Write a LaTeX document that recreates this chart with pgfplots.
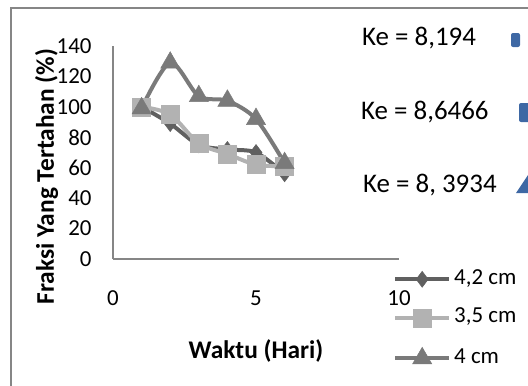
\documentclass[border=0pt]{standalone}
\usepackage{fontspec}
\setmainfont{Carlito}
\usepackage{pgfplots}
\pgfplotsset{compat=1.18}

\definecolor{serA}{RGB}{96,96,96}
\definecolor{serB}{RGB}{178,178,178}
\definecolor{serC}{RGB}{122,122,122}
\definecolor{axisgray}{RGB}{134,134,134}
\definecolor{kemark}{RGB}{62,104,164}

\begin{document}
\begin{tikzpicture}[x=1bp,y=1bp]
\clip (0,0) rectangle (528,385);
% chart frame (only the top and left edges are in the picture)
\draw[axisgray, line width=2bp] (11,-5) -- (11,377) -- (540,377);

\begin{axis}[
    at={(113bp,126bp)}, anchor=south west,
    scale only axis, width=286bp, height=213bp,
    xmin=0, xmax=10, ymin=0, ymax=140,
    xtick={0,5,10}, ytick={0,20,...,140},
    axis lines*=left,
    axis line style={axisgray, line width=2bp, -},
    major tick length=0pt,
    clip=false,
    /pgf/number format/assume math mode=true,
    tick label style={font=\fontsize{23}{27}\selectfont},
    yticklabel style={xshift=-18bp},
    xticklabel style={yshift=-28bp},
    xlabel={Waktu (Hari)},
    ylabel={Fraksi Yang Tertahan (\%)},
    every axis x label/.style={at={(axis description cs:0.5,-0.43)}, anchor=center,
        font=\bfseries\fontsize{25.5}{29}\selectfont},
    every axis y label/.style={at={(axis description cs:-0.2325,0.387)}, anchor=center,
        rotate=90, font=\bfseries\fontsize{25.5}{29}\selectfont},
    legend style={draw=none, fill=none, at={(axis description cs:0.979,-0.052)},
        anchor=north west, inner sep=0pt, row sep=20.5bp, column sep=3bp,
        font=\fontsize{23}{27}\selectfont,
        nodes={inner sep=0bp, text height=14bp, text depth=4bp}},
    legend cell align=left,
    legend image code/.code={
        \draw[mark repeat=2, mark phase=2, #1] plot coordinates {(0bp,0bp) (27bp,0bp) (54bp,0bp)};
    },
]

\addplot[serA, line width=4bp, smooth, mark=diamond*, mark size=8bp,
    mark options={solid, fill=serA, line width=0.5bp}] coordinates {
    (1,100) (2,89) (3,75) (4,72) (5,70) (6,56)
};
\addlegendentry{4,2 cm}

\addplot[serB, line width=4bp, smooth, mark=square*, mark size=9bp,
    mark options={solid, fill=serB, line width=0.5bp}] coordinates {
    (1,100) (2,95) (3,76) (4,69) (5,62) (6,61)
};
\addlegendentry{3,5 cm}

\addplot[serC, line width=4bp, smooth, mark=triangle*, mark size=11bp,
    mark options={solid, fill=serC, line width=0.5bp}] coordinates {
    (1,99) (2,129) (3,107) (4,104) (5,92) (6,63)
};
\addlegendentry{4 cm}

\end{axis}

% trendline labels, cut by the right edge of the chart
\begin{scope}[font=\fontsize{27}{31}\selectfont]
\node[anchor=west, inner sep=0pt] at (362,347) {Ke = 8,194};
\node[anchor=west, inner sep=0pt] at (361,273) {Ke = 8,6466};
\node[anchor=west, inner sep=0pt] at (363,200) {Ke = 8, 3934};
\end{scope}
\fill[kemark, rounded corners=2bp] (511,338) rectangle (520,352);
\fill[kemark, rounded corners=2bp] (519,263) rectangle (534,282);
\fill[kemark] (516,192) -- (528,210) -- (540,192) -- cycle;
\end{tikzpicture}
\end{document}
